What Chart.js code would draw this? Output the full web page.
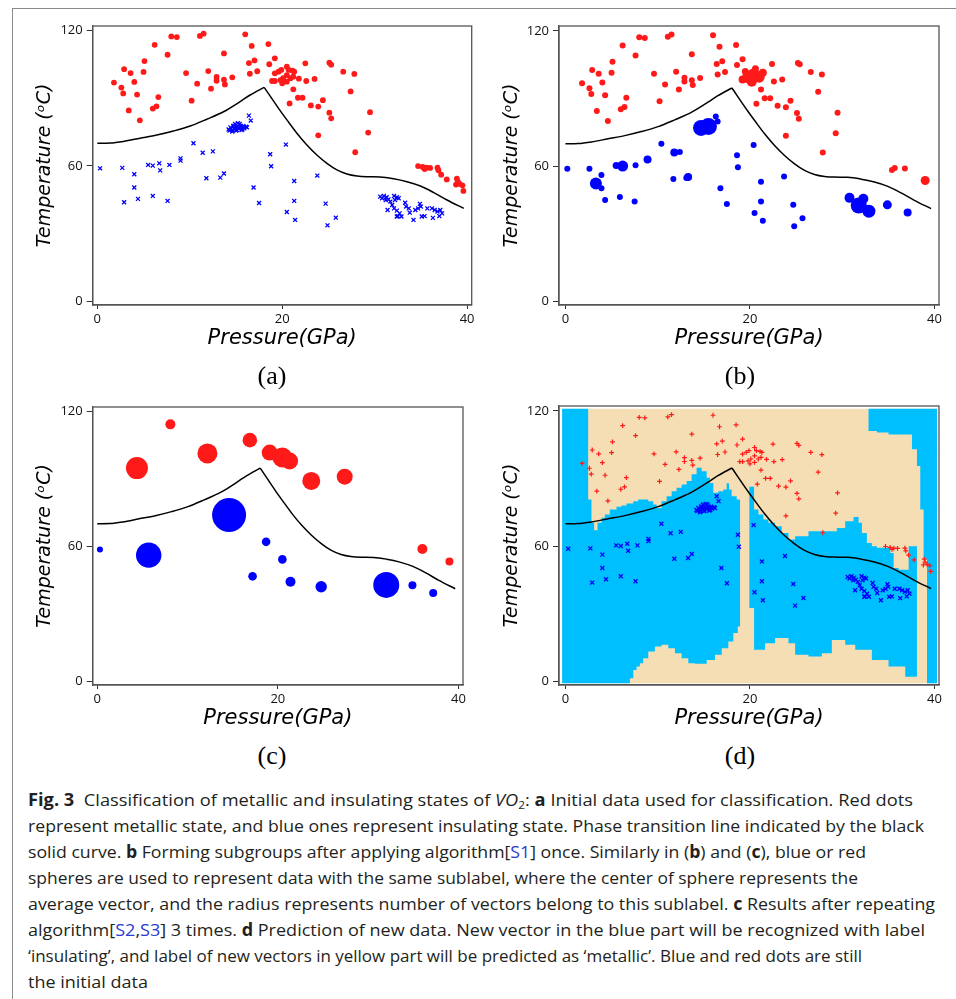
<!DOCTYPE html>
<html><head><meta charset="utf-8">
<script src="https://cdn.jsdelivr.net/npm/chart.js@4"></script>
<style>
html,body{margin:0;padding:0;background:#fff}
body{width:956px;height:999px;position:relative;overflow:hidden}
#frame{position:absolute;left:12px;top:8px;width:944px;height:991px;border-left:1px solid #8a8a8a;border-top:1px solid #8a8a8a;box-sizing:border-box}
.pw{position:absolute}
.pl{position:absolute;font-family:'Liberation Serif',serif;font-size:26px;color:#000;transform:translate(-50%,-50%);white-space:nowrap}
.ln{position:absolute;left:28px;height:26px;line-height:26px;white-space:nowrap;font-family:'Open Sans','Noto Sans',sans-serif;font-size:17px;color:#231f20;transform-origin:0 50%}
.ln b{font-weight:700}
.ln .lk{color:#2b3bd1}
.ln sub{font-size:11px;vertical-align:-3px;line-height:0}
</style></head>
<body>
<div id="frame"></div>
<div class="pw" style="left:0;top:10px"><canvas id="ca" width="480" height="350"></canvas></div>
<div class="pw" style="left:480px;top:10px"><canvas id="cb" width="476" height="350"></canvas></div>
<div class="pw" style="left:0;top:390px"><canvas id="cc" width="480" height="350"></canvas></div>
<div class="pw" style="left:480px;top:390px"><canvas id="cd" width="476" height="350"></canvas></div>
<div class="pl" style="left:272px;top:376px">(a)</div>
<div class="pl" style="left:740px;top:376px">(b)</div>
<div class="pl" style="left:272px;top:756px">(c)</div>
<div class="pl" style="left:740px;top:756px">(d)</div>

<div class="ln" data-w="885" style="top:787px"><b>Fig. 3</b>&nbsp; Classification of metallic and insulating states of <i>VO</i><sub>2</sub>: <b>a</b> Initial data used for classification. Red dots</div>
<div class="ln" data-w="896" style="top:813px">represent metallic state, and blue ones represent insulating state. Phase transition line indicated by the black</div>
<div class="ln" data-w="838" style="top:839px">solid curve. <b>b</b> Forming subgroups after applying algorithm[<span class="lk">S1</span>] once. Similarly in (<b>b</b>) and (<b>c</b>), blue or red</div>
<div class="ln" data-w="830" style="top:865px">spheres are used to represent data with the same sublabel, where the center of sphere represents the</div>
<div class="ln" data-w="907" style="top:891px">average vector, and the radius represents number of vectors belong to this sublabel. <b>c</b> Results after repeating</div>
<div class="ln" data-w="897" style="top:917px">algorithm[<span class="lk">S2</span>,<span class="lk">S3</span>] 3 times. <b>d</b> Prediction of new data. New vector in the blue part will be recognized with label</div>
<div class="ln" data-w="834" style="top:943px">‘insulating’, and label of new vectors in yellow part will be predicted as ‘metallic’. Blue and red dots are still</div>
<div class="ln" data-w="120" style="top:969px">the initial data</div>

<script>
// ---------- DATA ----------
const xTickValues = [0, 20, 40];
const yTickValues = [0, 60, 120];

// phase transition line (Pressure GPa, Temperature C)
const curveRise = [[0,70.0],[1.37,70.1],[2.82,70.8],[4.62,72.2],[6.43,73.6],[8.23,75.4],[10.04,77.6],[11.84,80.6],[13.65,83.9],[15.45,88.4],[16.53,91.3],[18.05,94.7]];
const curveFall = [[18.05,94.7],[19.78,84.4],[20.51,80.3],[21.59,74.4],[22.67,69.2],[23.75,64.8],[24.84,61.1],[25.92,58.2],[27.0,56.4],[28.09,55.5],[29.17,55.2],[30.61,55.1],[32.06,54.3],[33.5,53.0],[34.95,51.1],[36.39,48.2],[37.83,44.9],[39.64,41.2]];

// initial data: metallic (red)
const metallic = [[1.8,96.8],[2.6,94.6],[2.8,92.0],[2.9,102.7],[3.6,101.0],[4.0,97.1],[4.3,91.5],[3.4,84.5],[4.6,80.1],[5.0,101.5],[5.1,106.3],[6.2,113.5],[6.0,85.3],[6.4,86.3],[6.6,90.4],[7.6,109.1],[8.0,117.2],[8.6,116.9],[9.6,101.0],[10.2,88.8],[10.8,96.3],[11.1,117.4],[11.5,118.4],[12.0,101.9],[12.3,94.1],[12.9,97.6],[12.9,99.3],[13.7,109.7],[13.7,98.1],[13.8,96.0],[14.6,99.1],[16.0,118.1],[16.4,105.4],[16.5,100.7],[16.7,113.0],[17.0,106.6],[17.3,101.8],[18.5,113.8],[18.6,104.9],[19.2,107.5],
  [18.9,97.5],[19.2,97.5],[19.2,100.9],[19.6,101.6],[19.9,102.4],[20.5,103.8],[20.7,102.4],[21.1,102.1],[21.3,101.6],[20.5,100.1],[20.1,98.7],[19.8,97.9],[20.0,96.5],[20.5,97.2],[20.9,98.7],[21.2,99.4],[21.8,98.5],
  [21.2,93.8],[22.6,97.5],[23.5,98.4],[22.5,105.3],[25.1,105.6],[25.3,104.7],[26.6,101.6],[27.8,100.6],[27.4,92.9],[20.8,87.6],[21.7,90.1],[22.2,90.1],[23.1,86.7],[23.9,86.2],[24.4,89.0],[25.1,83.5],[25.3,81.0],[23.9,73.5],[29.5,83.7],[29.3,74.7],[27.9,66.0],
  [34.7,59.9],[35.2,59.5],[35.4,58.6],[35.6,59.2],[36.0,59.1],[36.8,59.2],[36.9,58.0],[37.2,56.1],[37.8,54.0],[38.9,54.3],[39.0,53.0],[38.8,51.7],[39.2,52.0],[39.5,51.4],[39.6,48.9]];

// initial data: insulating (blue)
const insulating = [[0.3,58.9],[2.7,59.1],[4.0,56.3],[4.0,50.4],[2.9,43.9],[4.4,45.4],[5.5,60.4],[6.0,60.1],[6.7,61.1],[6.8,58.0],[7.8,60.4],[6.0,46.7],[7.6,44.5],[9.0,63.3],[9.0,62.3],[10.4,70.0],[11.4,65.8],[12.5,66.4],[11.8,54.5],[13.3,54.8],[13.7,56.6],[16.4,82.2],[16.6,80.0],[16.9,50.4],[17.5,43.6],[18.7,65.1],[18.8,59.8],
  [14.2,76.1],[14.4,77.0],[14.6,75.8],[14.7,77.6],[14.8,76.6],[14.9,78.5],[15.0,75.6],[15.1,77.3],[15.2,78.8],[15.3,76.4],[15.5,77.6],[15.6,75.8],[15.7,77.0],[15.8,77.6],[15.9,76.6],[16.1,77.3],[16.2,77.0],[14.6,75.1],[14.8,77.6],[15.1,75.8],[15.4,78.5],[14.3,75.6],[15.3,77.0],[15.7,76.1],[15.0,76.6],
  [20.4,69.4],[21.3,53.3],[21.3,44.5],[20.5,39.6],[21.4,36.1],[23.8,55.7],[24.7,43.3],[25.8,37.1],[24.9,33.7],
  [30.6,46.4],[30.8,45.7],[31.0,46.7],[31.2,44.9],[31.3,46.1],[31.5,45.2],[31.4,40.5],[31.7,44.2],[31.9,42.7],[32.1,46.7],[32.2,44.9],[32.4,46.1],[32.6,45.7],[32.1,41.2],[32.4,40.2],[32.5,37.8],[32.7,39.0],[32.9,37.6],[32.4,37.6],[33.3,43.7],[33.4,42.0],[33.7,41.2],[33.8,39.3],[34.2,36.1],[34.4,40.5],[34.7,41.2],[34.9,43.2],[35.0,42.0],[35.1,37.6],[35.4,37.8],[35.7,41.2],[36.2,41.2],[36.3,37.0],[36.5,40.5],[36.8,39.8],[37.0,37.8],[37.1,40.5],[37.3,39.0]];

// (b) subgroups after one pass: [P, T, radius px]
const subRedB = [[1.8,96.8,3],[2.6,94.6,3],[2.8,92.0,3],[2.9,102.7,3],[3.6,101.0,3],[4.0,97.1,3],[4.3,91.5,3],[3.4,84.5,3],[4.6,80.1,3],[5.0,101.5,3],[5.1,106.3,3],[6.2,113.5,3],[6.0,85.3,3],[6.4,86.3,3],[6.6,90.4,3],[7.6,109.1,3],[8.0,117.2,3],[8.6,116.9,3],[9.6,101.0,3],[10.2,88.8,3],[10.8,96.3,3],[11.1,117.4,3],[11.5,118.4,3],[12.0,101.9,3],[12.3,94.1,3],[12.9,97.6,3],[12.9,99.3,3],[13.7,109.7,3],[13.7,98.1,3],[13.8,96.0,3],[14.6,99.1,3],[16.0,118.1,3],[16.4,105.4,3],[16.5,100.7,3],[16.7,113.0,3],[17.0,106.6,3],[17.3,101.8,3],[18.5,113.8,3],[18.6,104.9,3],[19.2,107.5,3],
  [19.2,98.5,4],[19.8,99.5,6],[20.4,100.5,6.5],[21.0,99.5,5.5],[20.2,97.5,5],[20.6,103.3,3.5],[21.4,101.5,4],[19.5,102.0,3.5],
  [22.4,105.3,3],[22.6,97.6,3],[23.5,98.5,3],[21.2,94.0,3],[20.7,87.7,3],[21.6,90.2,3],[22.2,90.2,3],[23.0,86.8,3],[23.9,86.2,3],[24.4,89.1,3],[25.1,83.6,3],[25.3,81.1,3],[23.9,73.5,3],[25.2,105.8,3],[25.4,105.2,3],[26.6,101.8,3],[27.8,100.7,3],[27.4,93.0,3],[29.5,83.7,3],[29.3,74.7,3],[27.9,66.1,3],[35.4,58.4,3],[35.7,59.2,3],[36.8,59.0,3],[39.0,53.7,4.5]];
const subBlueB = [[0.2,58.9,3],[2.6,58.9,3],[3.9,56.1,3],[3.3,52.4,6],[3.9,50.3,3],[4.3,45.1,3],[5.5,60.4,3.5],[6.2,60.1,5.5],[5.9,46.4,3],[7.5,44.4,3],[7.6,60.5,3],[8.9,63.0,4],[10.4,70.0,3],[11.8,66.1,4],[12.4,66.3,3],[11.7,54.4,3],[13.3,55.2,4],[13.1,54.8,3],[14.7,77.0,8],[15.5,77.6,8.5],[16.3,82.1,3],[16.5,79.9,3],[16.8,50.3,3],[17.5,43.3,3],[18.6,64.9,3],[18.7,59.6,3],[20.4,69.4,3],[21.2,53.1,3],[21.2,44.4,3],[20.5,39.3,3],[21.4,35.9,3],[23.7,55.5,3],[24.7,43.0,3],[25.7,37.0,3],[24.8,33.4,3],[30.8,46.0,5],[31.8,42.6,8],[32.3,45.6,5],[32.9,40.1,6.5],[34.9,42.9,4.5],[37.1,39.5,4]];

// (c) subgroups after 3 repetitions: [P, T, radius px]
const subRedC = [[8.1,114.1,5],[4.4,94.7,11],[12.2,101.2,10],[16.9,107.1,7.3],[19.1,101.6,8],[20.5,99.4,10],[21.3,97.9,8.5],[23.7,89.0,9],[27.4,90.9,8],[36.0,58.8,5],[39.0,53.3,4]];
const subBlueC = [[0.3,58.6,3],[5.7,56.1,12.7],[14.6,73.9,17],[18.7,62.0,4.3],[20.5,54.2,4.3],[17.2,46.7,4.3],[21.4,44.3,5],[24.8,42.1,5.7],[32.0,42.9,13],[34.9,42.7,4],[37.2,39.3,4]];

// (d) predicted 'insulating' (blue) regions: stepped upper / lower boundaries [P, T]
const predArea = [[-0.36,-0.74],[40.28,121]];
const blueLeftUpper = [[-0.36,121],[2.46,80.7],[2.82,70.4],[3.11,67.1],[3.47,70.4],[3.91,72.6],[4.27,74.1],[4.81,76.3],[5.54,77.5],[6.08,78.1],[6.62,79.0],[7.35,80.0],[7.89,80.7],[8.98,80.0],[9.52,78.5],[9.88,77.0],[10.42,80.0],[10.97,82.2],[11.51,84.4],[12.05,85.9],[12.6,87.4],[13.14,88.9],[13.68,91.9],[14.22,94.8],[14.77,93.3],[15.31,90.4],[15.67,88.1],[16.03,83.7],[16.58,84.4],[17.12,85.2],[17.48,87.9],[17.73,85.2],[18.02,82.2],[18.57,80.7],[18.93,80.7]];
const blueLeftLower = [[-0.36,-0.74],[6.99,1.5],[7.35,5.2],[7.71,6.7],[8.07,8.1],[8.43,10.4],[8.98,13.3],[9.7,15.6],[10.42,16.3],[11.15,14.8],[11.87,12.6],[12.6,10.4],[13.32,8.1],[14.04,7.9],[15.31,9.6],[16.21,11.9],[16.94,14.8],[17.66,17.8],[18.2,21.5],[18.68,24.4],[18.93,24.4]];
const blueMidUpper = [[19.94,86.4],[20.45,76.3],[20.92,74.1],[21.46,71.9],[22.0,70.4],[22.73,68.9],[23.45,65.9],[24.18,63.0],[24.9,64.4],[26.35,66.7],[28.52,66.7],[29.42,68.1],[30.33,71.1],[31.23,73.0],[31.78,70.4],[32.14,65.9],[32.68,61.5],[33.22,60.0],[33.77,59.3],[35.22,57.0],[35.58,50.4],[36.12,49.6],[37.21,60.0],[38.11,60.0]];
const blueMidLower = [[19.94,32.6],[20.45,14.1],[21.64,17.0],[22.73,19.3],[24.18,17.0],[24.9,11.9],[26.35,11.1],[27.8,12.6],[28.88,18.5],[30.33,16.3],[31.42,14.1],[33.22,9.6],[35.03,6.7],[36.84,2.2],[38.11,2.2]];
const blueRightUpper = [[32.86,121],[40.28,121]];
const blueRightLower = [[32.86,111.1],[33.77,110.4],[35.03,109.6],[37.57,103.0],[38.11,95.6],[38.47,76.3],[38.83,54.1],[39.2,-0.74],[40.28,-0.74]];

// ---------- helpers ----------
const RED='#ff1a1a', BLUE='#0000ff', CYAN='#00bfff', WHEAT='#f5deb3';
const xy = a => a.map(p => ({x:p[0], y:p[1]}));
const xyr = a => a.map(p => ({x:p[0], y:p[1], r:p[2]}));
function stepPoly(up, lo){
  const v=[];
  for(let i=0;i<up.length-1;i++){ v.push({x:up[i][0],y:up[i][1]}); v.push({x:up[i+1][0],y:up[i][1]}); }
  for(let i=lo.length-1;i>0;i--){ v.push({x:lo[i][0],y:lo[i-1][1]}); v.push({x:lo[i-1][0],y:lo[i-1][1]}); }
  return v;
}
function rectPoly(r){ return [{x:r[0][0],y:r[0][1]},{x:r[1][0],y:r[0][1]},{x:r[1][0],y:r[1][1]},{x:r[0][0],y:r[1][1]}]; }

const framePlugin = {id:'frame', afterDatasetsDraw(chart){
  const {ctx, chartArea:a} = chart; ctx.save(); ctx.strokeStyle='#555'; ctx.lineWidth=1.3;
  ctx.strokeRect(a.left, a.top, a.right-a.left, a.bottom-a.top); ctx.restore(); }};

function curveSets(){
  const base = {type:'line', borderColor:'#000', borderWidth:1.5, pointRadius:0, fill:false, cubicInterpolationMode:'monotone', order:1};
  return [Object.assign({data:xy(curveRise)}, base), Object.assign({data:xy(curveFall)}, base)];
}

function makeChart(id, p, datasets){
  new Chart(document.getElementById(id), {
    type:'scatter',
    data:{datasets},
    options:{
      responsive:false, animation:false, events:[],
      layout:{padding:{left:0, top:16, right:p.rp, bottom:0}},
      plugins:{legend:{display:false}, tooltip:{enabled:false}},
      scales:{
        x:{type:'linear', min:p.xmin, max:p.xmax,
          afterBuildTicks:s=>{s.ticks = xTickValues.map(v=>({value:v}));},
          afterFit:s=>{s.height = 55;},
          grid:{drawOnChartArea:false, drawTicks:true, tickLength:4, color:'#333'},
          border:{display:true, color:'#555', width:1.3},
          ticks:{font:{family:'Open Sans', size:13}, color:'#111', padding:2, maxRotation:0, autoSkip:false},
          title:{display:true, text:'Pressure(GPa)', color:'#000', font:{family:'DejaVu Sans', size:21, style:'italic'}, padding:{top:0,bottom:8.5}}},
        y:{type:'linear', min:p.ymin, max:p.ymax,
          afterBuildTicks:s=>{s.ticks = yTickValues.map(v=>({value:v}));},
          afterFit:s=>{s.width = p.yw;},
          grid:{drawOnChartArea:false, drawTicks:true, tickLength:6, color:'#333'},
          border:{display:true, color:'#555', width:1.3},
          ticks:{font:{family:'Open Sans', size:13}, color:'#111', padding:4, autoSkip:false},
          title:{display:true, text:'Temperature (ᵒC)', color:'#000', font:{family:'DejaVu Sans', size:19, style:'italic'}, padding:{top:p.ytpad,bottom:0}}}
      }
    },
    plugins:[framePlugin]
  });
}

const PA = {xmin:-0.5, xmax:40.5, ymin:-1.5, ymax:121.8, yw:92.7, rp:8.3, ytpad:33.6};
const PB = {xmin:-0.7, xmax:40.5, ymin:-1.5, ymax:122.2, yw:79, rp:17, ytpad:20.6};

// (a)
makeChart('ca', PA, [
  {data:xy(metallic), backgroundColor:RED, borderWidth:0, pointRadius:2.9, order:0},
  {data:xy(insulating), pointStyle:'crossRot', borderColor:BLUE, borderWidth:1.3, pointRadius:2.8, order:0},
  ...curveSets()
]);
// (b)
makeChart('cb', PB, [
  {type:'bubble', data:xyr(subRedB), backgroundColor:RED, borderWidth:0, order:0},
  {type:'bubble', data:xyr(subBlueB), backgroundColor:BLUE, borderWidth:0, order:0},
  ...curveSets()
]);
// (c)
makeChart('cc', PA, [
  {type:'bubble', data:xyr(subRedC), backgroundColor:RED, borderWidth:0, order:0},
  {type:'bubble', data:xyr(subBlueC), backgroundColor:BLUE, borderWidth:0, order:0},
  ...curveSets()
]);
// (d)
const regionBase = {type:'line', pointRadius:0, borderWidth:0, fill:'shape', tension:0};
makeChart('cd', PB, [
  {data:xy(metallic), pointStyle:'cross', borderColor:RED, borderWidth:1.2, pointRadius:2.4, order:0},
  {data:xy(insulating), pointStyle:'crossRot', borderColor:BLUE, borderWidth:1.3, pointRadius:2.8, order:0},
  ...curveSets(),
  Object.assign({data:stepPoly(blueLeftUpper, blueLeftLower), backgroundColor:CYAN, borderColor:CYAN, order:2}, regionBase),
  Object.assign({data:stepPoly(blueMidUpper, blueMidLower), backgroundColor:CYAN, borderColor:CYAN, order:2}, regionBase),
  Object.assign({data:stepPoly(blueRightUpper, blueRightLower), backgroundColor:CYAN, borderColor:CYAN, order:2}, regionBase),
  Object.assign({data:rectPoly(predArea), backgroundColor:WHEAT, borderColor:WHEAT, order:3}, regionBase)
]);

// fit caption lines to their measured widths
function fitLines(){
  document.querySelectorAll('.ln').forEach(el=>{
    el.style.transform='none';
    const w = el.getBoundingClientRect().width;
    const k = parseFloat(el.dataset.w)/w;
    el.style.transform='scaleX('+k+')';
  });
}
fitLines();
if (document.fonts && document.fonts.ready) document.fonts.ready.then(fitLines);
</script>
</body></html>
